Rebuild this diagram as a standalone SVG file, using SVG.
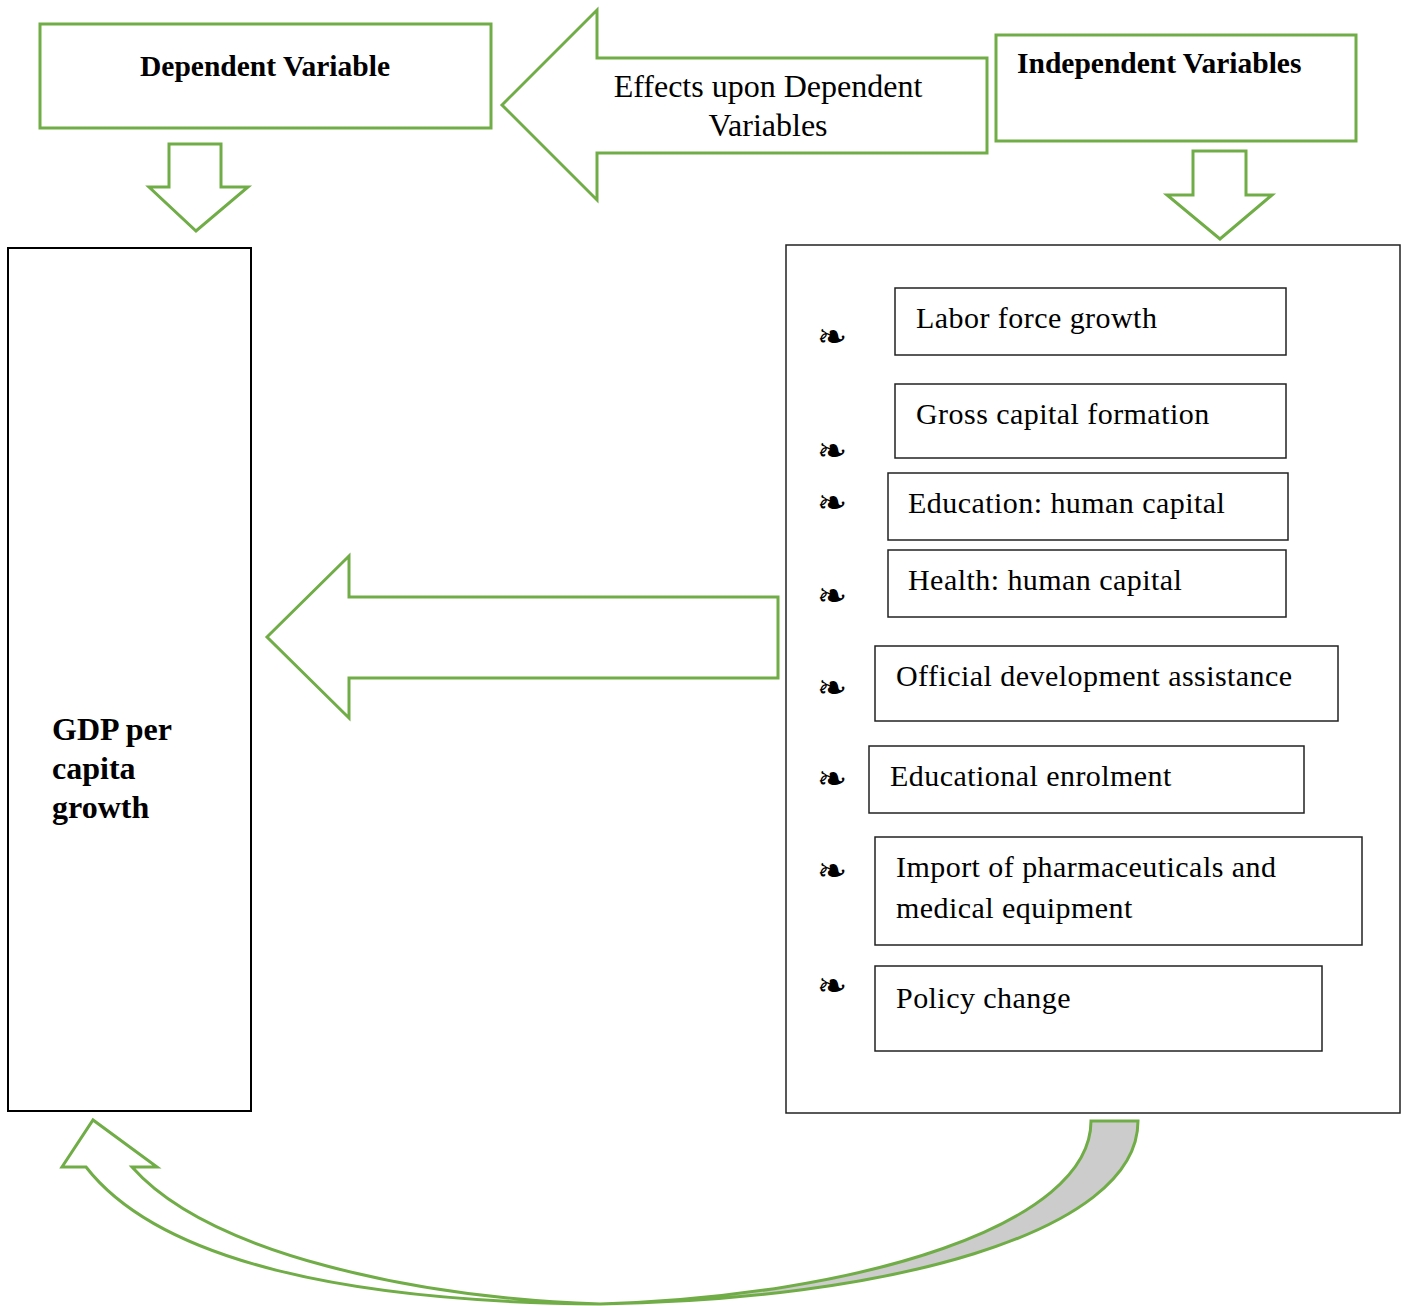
<svg xmlns="http://www.w3.org/2000/svg" width="1410" height="1306" viewBox="0 0 1410 1306">
<style>
.g{fill:#fff;stroke:#70AD47;stroke-width:3;stroke-linejoin:miter}
.b{fill:#fff;stroke:#222;stroke-width:1.5}
.bk{fill:#fff;stroke:#000;stroke-width:2}
.t{font-family:"Liberation Serif","Times New Roman",serif;fill:#000}
.h{font-weight:bold;font-size:29.5px}
.i{font-size:30px;letter-spacing:0.45px}
.bul{font-family:"DejaVu Sans",sans-serif;font-size:36px;fill:#000}
</style>
<rect width="1410" height="1306" fill="#fff"/>
<g id="dependent-variable">
<rect class="g" x="40" y="24" width="451" height="104"/>
<text class="t h" x="265" y="76" text-anchor="middle">Dependent Variable</text>
</g>
<g id="independent-variables">
<rect class="g" x="996" y="35" width="360" height="106"/>
<text class="t h" x="1017" y="73">Independent Variables</text>
</g>
<g id="gdp">
<rect class="bk" x="8" y="248" width="243" height="863"/>
<text class="t" font-weight="bold" font-size="32" x="52"><tspan x="52" y="740">GDP per</tspan><tspan x="52" y="779">capita</tspan><tspan x="52" y="818">growth</tspan></text>
</g>
<g id="independent-list">
<rect class="b" x="786" y="245" width="614" height="868"/>
<g id="item-labor"><text class="bul" x="817" y="349">❧</text><rect class="b" x="895" y="288" width="391" height="67"/><text class="t i" x="916" y="328">Labor force growth</text></g>
<g id="item-capital"><text class="bul" x="817" y="463">❧</text><rect class="b" x="895" y="384" width="391" height="74"/><text class="t i" x="916" y="424">Gross capital formation</text></g>
<g id="item-education"><text class="bul" x="817" y="515">❧</text><rect class="b" x="888" y="473" width="400" height="67"/><text class="t i" x="908" y="513">Education: human capital</text></g>
<g id="item-health"><text class="bul" x="817" y="608">❧</text><rect class="b" x="888" y="550" width="398" height="67"/><text class="t i" x="908" y="590">Health: human capital</text></g>
<g id="item-oda"><text class="bul" x="817" y="700">❧</text><rect class="b" x="875" y="646" width="463" height="75"/><text class="t i" x="896" y="686">Official development assistance</text></g>
<g id="item-enrolment"><text class="bul" x="817" y="791">❧</text><rect class="b" x="869" y="746" width="435" height="67"/><text class="t i" x="890" y="786">Educational enrolment</text></g>
<g id="item-pharma"><text class="bul" x="817" y="883">❧</text><rect class="b" x="875" y="837" width="487" height="108"/><text class="t i"><tspan x="896" y="877">Import of pharmaceuticals and</tspan><tspan x="896" y="918">medical equipment</tspan></text></g>
<g id="item-policy"><text class="bul" x="817" y="998">❧</text><rect class="b" x="875" y="966" width="447" height="85"/><text class="t i" x="896" y="1008">Policy change</text></g>
</g>
<g id="connectors">
<g id="effects-arrow">
<polygon class="g" points="502,105 597,10 597,58 987,58 987,153 597,153 597,200"/>
<text class="t" font-size="32" text-anchor="middle"><tspan x="768" y="97">Effects upon Dependent</tspan><tspan x="768" y="136">Variables</tspan></text>
</g>
<polygon class="g" points="169,144 221,144 221,187 248,187 196,231 149,187 169,187"/>
<polygon class="g" points="1193,151 1246,151 1246,195 1272,195 1220,239 1167,195 1193,195"/>
<polygon class="g" points="267,637 349,556 349,597 778,597 778,678 349,678 349,718"/>
<path class="g" style="fill:#ccc" d="M1091,1121 L1138,1121 C1138,1235 880,1300 600,1304 C860,1296 1091,1225 1091,1121 Z"/>
<path class="g" d="M600,1304 C350,1302 160,1262 86,1167 L62,1167 L93,1120 L157,1167 L132,1167 C210,1255 420,1298 600,1304 Z"/>
</g>
</svg>
